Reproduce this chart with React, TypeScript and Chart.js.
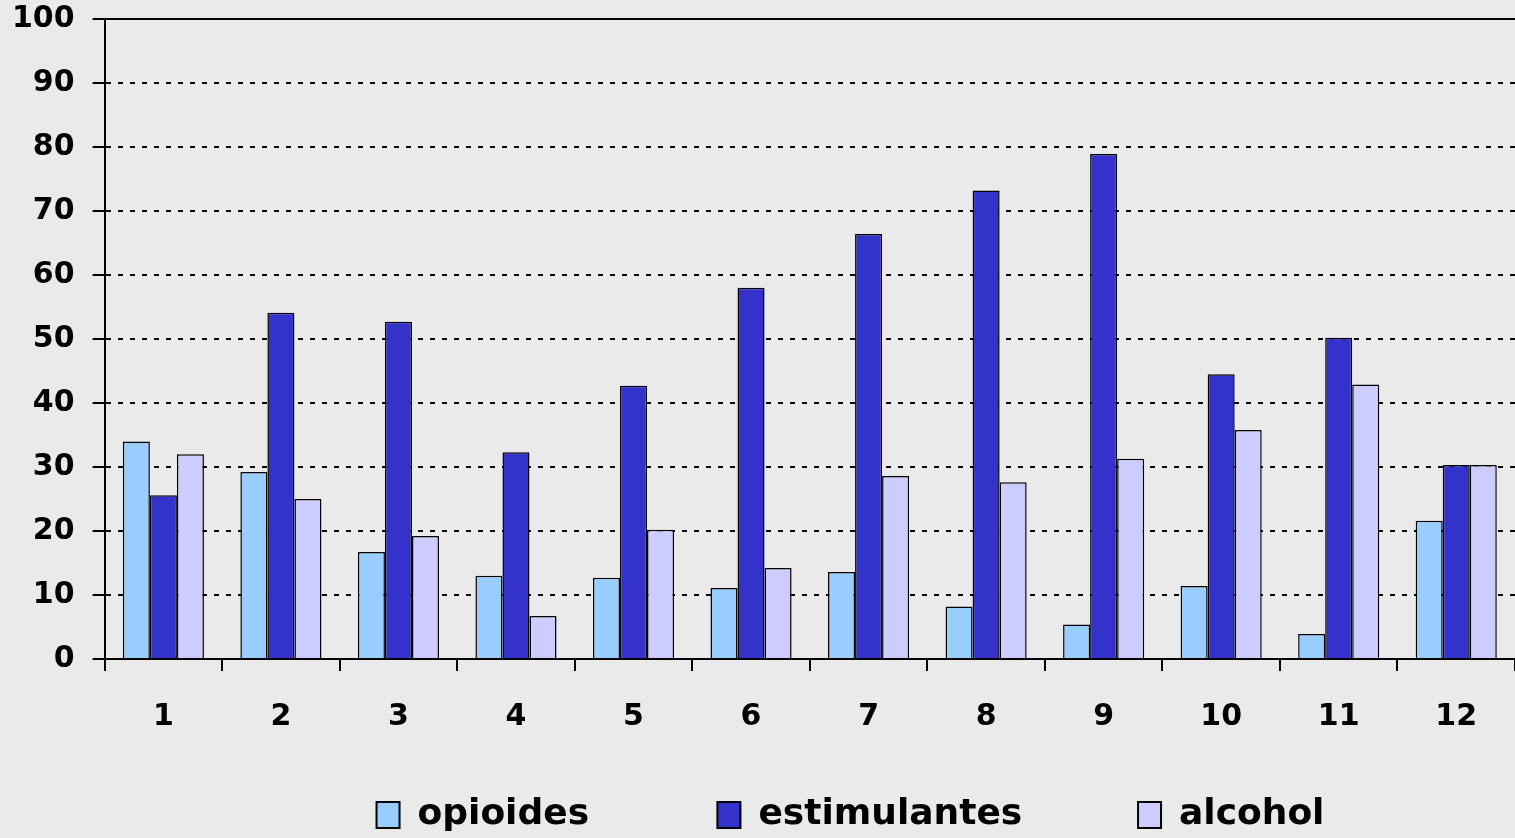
import React, { useEffect, useRef } from "react";
import { Chart, registerables } from "chart.js";

Chart.register(...registerables);

const categories = ["1", "2", "3", "4", "5", "6", "7", "8", "9", "10", "11", "12"];
const opioides = [34.0, 29.2, 16.7, 13.0, 12.7, 11.1, 13.6, 8.2, 5.4, 11.4, 3.9, 21.6];
const estimulantes = [25.6, 54.1, 52.7, 32.3, 42.7, 58.0, 66.4, 73.2, 78.9, 44.5, 50.2, 30.3];
const alcohol = [32.0, 25.0, 19.2, 6.7, 20.2, 14.2, 28.6, 27.6, 31.3, 35.8, 42.9, 30.3];
const seriesNames = ["opioides", "estimulantes", "alcohol"];
const seriesColors = ["#99CCFF", "#3333CC", "#CCCCFF"];
const yMin = 0;
const yMax = 100;
const yStep = 10;

const FONT = "'DejaVu Sans', Verdana, sans-serif";

export default function App() {
  const ref = useRef<HTMLCanvasElement | null>(null);

  useEffect(() => {
    document.body.style.margin = "0";
    document.body.style.background = "#EAEAEA";
    const canvas = ref.current;
    if (!canvas) return;

    const legendShift = {
      id: "legendShift",
      afterLayout(chart: any) {
        const lg = chart.legend;
        if (lg) {
          lg.left += 96;
          lg.right += 96;
        }
      },
    };

    const pads = ["          ", "         "];
    const chart = new Chart(canvas, {
      type: "bar",
      data: {
        labels: categories,
        datasets: [opioides, estimulantes, alcohol].map((d, i) => ({
          label: seriesNames[i],
          data: d,
          backgroundColor: seriesColors[i],
          borderColor: "#000000",
          borderWidth: 1.5,
          categoryPercentage: 0.69,
          barPercentage: 1.0,
        })),
      },
      options: {
        animation: false,
        responsive: false,
        devicePixelRatio: 1,
        layout: { padding: { left: -6, top: 19, right: 0, bottom: -5 } },
        plugins: {
          tooltip: { enabled: false },
          legend: {
            position: "bottom",
            labels: {
              boxWidth: 23,
              boxHeight: 26,
              padding: 3,
              color: "#000000",
              font: { family: FONT, size: 36, weight: "bold" },
              generateLabels(chart: any) {
                const items = Chart.defaults.plugins.legend.labels.generateLabels(chart);
                return items.map((it: any, i: number) => ({
                  ...it,
                  text: i < items.length - 1 ? it.text + pads[i] : it.text,
                  lineWidth: 2,
                  strokeStyle: "#000000",
                }));
              },
            },
          },
        },
        scales: {
          x: {
            offset: true,
            afterFit(scale: any) {
              scale.height = 135;
            },
            grid: {
              offset: true,
              drawOnChartArea: false,
              drawTicks: true,
              tickLength: 12,
              color: "#000000",
              lineWidth: 2,
            },
            border: { display: true, color: "#000000", width: 2 },
            ticks: {
              color: "#000000",
              padding: 28,
              font: { family: FONT, size: 30, weight: "bold" },
            },
          },
          y: {
            min: yMin,
            max: yMax,
            afterFit(scale: any) {
              scale.paddingTop = 0;
              scale.paddingBottom = 0;
            },
            ticks: {
              stepSize: yStep,
              color: "#000000",
              padding: 18,
              font: { family: FONT, size: 30, weight: "bold" },
            },
            grid: {
              color: "#000000",
              lineWidth: 2,
              tickLength: 12,
              drawTicks: true,
              tickBorderDash: [],
            },
            border: {
              display: true,
              color: "#000000",
              width: 2,
              dash: (ctx: any) => (ctx.tick && ctx.tick.value === yMax ? [] : [5, 7]),
            },
          },
        },
      },
      plugins: [legendShift],
    } as any);

    return () => chart.destroy();
  }, []);

  return (
    <div style={{ width: 1515, height: 838, background: "#EAEAEA" }}>
      <canvas ref={ref} width={1515} height={838} style={{ display: "block" }} />
    </div>
  );
}
